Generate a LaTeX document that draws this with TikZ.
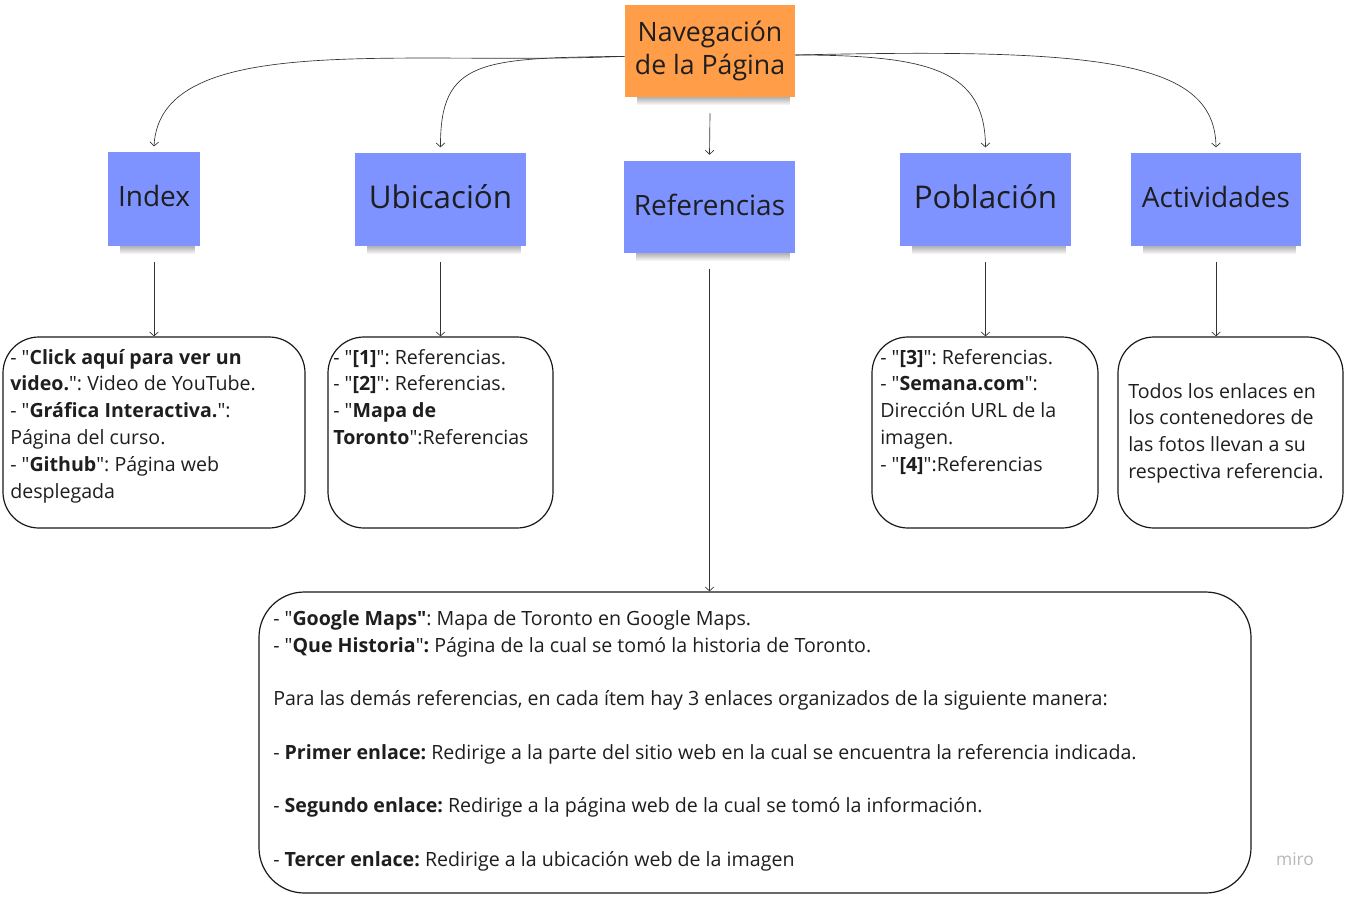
\documentclass[tikz,border=0pt]{standalone}
\usepackage{fontspec}
\setmainfont{Open Sans}[Ligatures=TeXOff]
\usetikzlibrary{arrows.meta,fadings,positioning}
\frenchspacing

\definecolor{notaorange}{RGB}{255,157,72}
\definecolor{notablue}{RGB}{126,147,255}
\definecolor{tinta}{RGB}{30,30,30}

\tikzset{
  nota/.style={fill=#1, text=tinta, inner sep=0pt, align=center},
  caja/.style={draw=black!90, line width=0.9pt, rounded corners=27pt, inner sep=0pt},
  texto/.style={anchor=base west, align=left, inner sep=0pt, text=tinta,
    font=\fontsize{14.7}{20.1}\selectfont},
  flecha/.style={-{Straight Barb[length=3pt,width=6.5pt]}, line width=0.5pt, black!80},
  sombra/.style={black, opacity=0.3, path fading=south},
}

\begin{document}
\begin{tikzpicture}[x=0.75pt,y=-0.75pt]

    \useasboundingbox[fill=white] (0,0) rectangle (1347,897);

    %%%%%%%%%%%%%%%%%%% Notas %%%%%%%%%%%%%%%%%%%%%%%%%%%%%%%
    \node [nota=notaorange, minimum width=127.5pt, minimum height=69pt,
      font=\fontsize{20}{24.75}\selectfont] (nav) at (710,51) {Navegación\\de la Página};

    \node [nota=notablue, minimum width=69pt, minimum height=70.5pt,
      font=\fontsize{21}{25}\selectfont] (index) at (154,199) {\raisebox{4pt}{Index}};
    \node [nota=notablue, minimum width=128.25pt, minimum height=69.75pt,
      font=\fontsize{23.5}{28}\selectfont] (ubic) at (440.5,199.5) {\raisebox{4pt}{Ubicación}};
    \node [nota=notablue, minimum width=128.25pt, minimum height=69pt,
      font=\fontsize{21}{25}\selectfont] (refs) at (709.5,207) {\raisebox{4pt}{Referencias}};
    \node [nota=notablue, minimum width=128.25pt, minimum height=69.75pt,
      font=\fontsize{23.5}{28}\selectfont] (pobl) at (985.5,199.5) {\raisebox{4pt}{Población}};
    \node [nota=notablue, minimum width=127.5pt, minimum height=69.75pt,
      font=\fontsize{21}{25}\selectfont] (activ) at (1216,199.5) {\raisebox{4pt}{Actividades}};

    % sombras
    \foreach \n in {nav,index,ubic,refs,pobl,activ} {
        \fill [sombra] ([xshift=9pt]\n.south west) rectangle ([xshift=-4pt,yshift=-6pt]\n.south east);
    }

    %%%%%%%%%%%%%%%%%%% Cajas %%%%%%%%%%%%%%%%%%%%%%%%%%%%%%%
    \node [caja, minimum width=226.5pt, minimum height=143.25pt] (cajaidx) at (154,432.5) {};
    \node [caja, minimum width=168.75pt, minimum height=143.25pt] (cajaubi) at (440.5,432.5) {};
    \node [caja, minimum width=169.5pt, minimum height=143.25pt] (cajapob) at (985,432.5) {};
    \node [caja, minimum width=168.75pt, minimum height=143.25pt] (cajaact) at (1230.5,432.5) {};
    \node [caja, rounded corners=34pt, minimum width=744pt, minimum height=225.75pt] (cajaref) at (755,742.5) {};

    % Index (base = ultima linea)
    \node [texto] (txtidx) at (10,498) {- "\textbf{Click aquí para ver un}\\
      \textbf{video.}": Video de YouTube.\\
      - "\textbf{Gráfica Interactiva.}":\\
      Página del curso.\\
      - "\textbf{Github}": Página web\\
      desplegada};

    % Ubicacion
    \node [texto] (txtubi) at (333,444.4) {- "\textbf{[1]}": Referencias.\\
      - "\textbf{[2]}": Referencias.\\
      - "\textbf{Mapa de}\\
      \textbf{Toronto}":Referencias};

    % Poblacion
    \node [texto] (txtpob) at (880,471.2) {- "\textbf{[3]}": Referencias.\\
      - "\textbf{Semana.com}":\\
      Dirección URL de la\\
      imagen.\\
      - "\textbf{[4]}":Referencias};

    % Actividades
    \node [texto] (txtact) at (1128,478.4) {Todos los enlaces en\\
      los contenedores de\\
      las fotos llevan a su\\
      respectiva referencia.};

    % Referencias
    \node [texto] (txtref) at (273,866) {- "\textbf{Google Maps"}: Mapa de Toronto en Google Maps.\\
      - "\textbf{Que Historia}"\textbf{:} Página de la cual se tomó la historia de Toronto.\\[20pt]
      Para las demás referencias, en cada ítem hay 3 enlaces organizados de la siguiente manera:\\[20pt]
      - \textbf{Primer enlace:} Redirige a la parte del sitio web en la cual se encuentra la referencia indicada.\\[20pt]
      - \textbf{Segundo enlace:} Redirige a la página web de la cual se tomó la información.\\[20pt]
      - \textbf{Tercer enlace:} Redirige a la ubicación web de la imagen};

    %%%%%%%%%%%%%%%%%%% Flechas %%%%%%%%%%%%%%%%%%%%%%%%%%%%%
    \draw [flecha] ([yshift=-4pt]nav.west) .. controls (400,66) and (160,30) .. ([yshift=4pt]index.north);
    \draw [flecha] ([yshift=-4pt]nav.west) .. controls (480,58) and (440,60) .. ([yshift=4pt]ubic.north);
    \draw [flecha] ([yshift=-12pt]nav.south) -- ([yshift=4.5pt]refs.north);
    \draw [flecha] ([yshift=-3pt]nav.east) .. controls (930,55) and (985,70) .. ([yshift=4pt]pobl.north);
    \draw [flecha] ([yshift=-3pt]nav.east) .. controls (1100,48) and (1215,60) .. ([yshift=4pt]activ.north);

    \draw [flecha] ([yshift=-12pt]index.south) -- (cajaidx.north);
    \draw [flecha] ([yshift=-12pt]ubic.south) -- (cajaubi.north);
    \draw [flecha] ([yshift=-12pt]refs.south) -- (refs.south |- cajaref.north);
    \draw [flecha] ([yshift=-12pt]pobl.south) -- (pobl.south |- cajapob.north);
    \draw [flecha] ([yshift=-12pt]activ.south) -- (activ.south |- cajaact.north);

    % marca
    \node [text=black!28, font=\fontsize{13}{13}\selectfont] (miro) at (1295,859) {miro};

\end{tikzpicture}
\end{document}
